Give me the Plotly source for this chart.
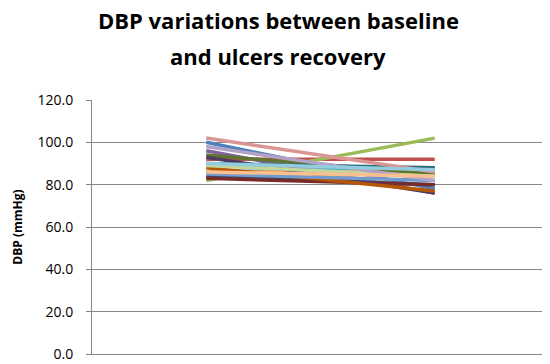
import plotly.graph_objects as go

categories = ["Baseline", "Recovery"]
baseline = [100, 92, 82, 96, 86, 86, 84, 83, 94, 93, 90, 88, 85, 102, 89, 98, 90, 86]
recovery = [78, 92, 102, 76, 88, 86, 80, 80, 85, 76, 88, 77, 82, 86, 84, 82, 87, 84]
colors = ["#4F81BD", "#C0504D", "#9BBB59", "#8064A2", "#4BACC6", "#F79646",
          "#2C4D75", "#772C2A", "#5F7530", "#4D3B62", "#276A7C", "#B65708",
          "#729ACA", "#D99694", "#C3D69B", "#B3A2C7", "#93CDDD", "#FAC090"]
yticks = [0, 20, 40, 60, 80, 100, 120]
title_lines = ["DBP variations between baseline", "and ulcers recovery"]

fig = go.Figure()
for i, (b, r) in enumerate(zip(baseline, recovery)):
    fig.add_trace(go.Scatter(x=[0, 1], y=[b, r], mode="lines",
                             line=dict(color=colors[i], width=3.5),
                             showlegend=False, hoverinfo="skip"))

for k, txt in enumerate(title_lines):
    fig.add_annotation(text=f"<b>{txt}</b>", xref="paper", yref="paper",
                       x=0.408, y=1 + (82 - k * 37) / 260, xanchor="center", yanchor="middle",
                       showarrow=False,
                       font=dict(family="Open Sans, Lato, sans-serif", size=22, color="black"))

fig.update_layout(
    width=550, height=364,
    margin=dict(l=80, r=9, t=92, b=12),
    paper_bgcolor="white", plot_bgcolor="white",
    font=dict(family="Open Sans, sans-serif", color="black"),
)
fig.update_xaxes(range=[-0.5, 1.5], showticklabels=False, showgrid=False,
                 zeroline=False, showline=True, linecolor="#878787", linewidth=1,
                 ticks="")
fig.update_yaxes(range=[0, 120], tickvals=yticks,
                 ticktext=[f"{v:.1f}" for v in yticks],
                 showgrid=True, gridcolor="#878787", gridwidth=1,
                 zeroline=False, showline=True, linecolor="#878787", linewidth=1,
                 ticks="outside", ticklen=5, tickcolor="#878787",
                 ticklabelstandoff=10,
                 tickfont=dict(size=14, family="Open Sans, sans-serif"),
                 title=dict(text="<b>DBP (mmHg)</b>", standoff=12,
                            font=dict(size=12, family="Open Sans, sans-serif")))

fig.write_html("out.html")
